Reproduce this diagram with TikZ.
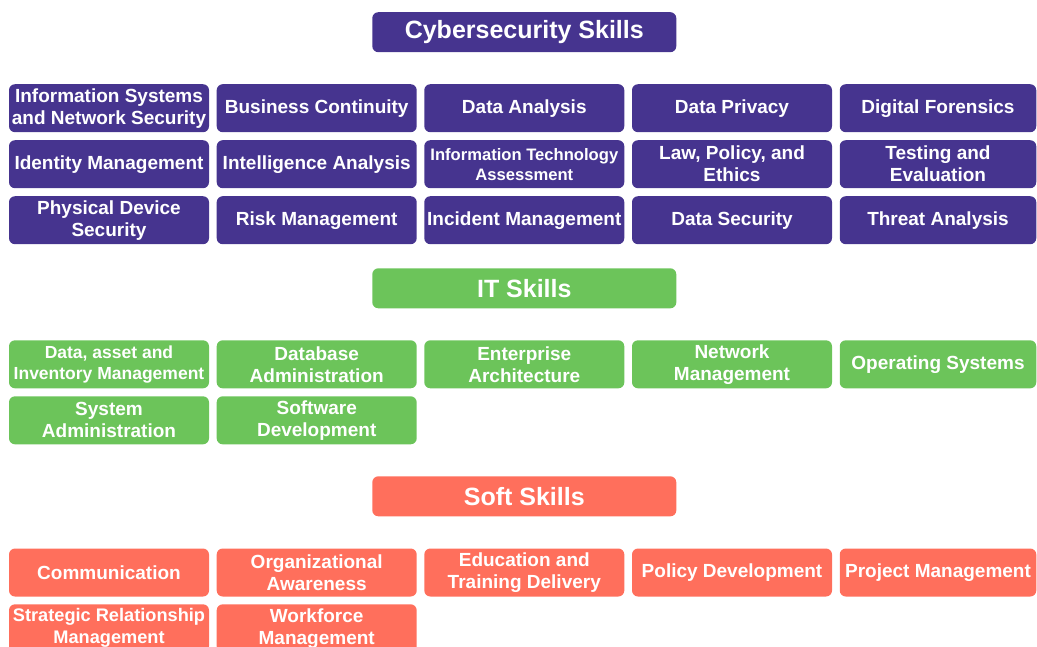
\documentclass[tikz,border=0pt]{standalone}
\usepackage{fontspec}
\setmainfont{Liberation Sans}
\definecolor{cyb}{HTML}{46348F}
\definecolor{itg}{HTML}{6CC45A}
\definecolor{sft}{HTML}{FF6F5C}
\begin{document}
\begin{tikzpicture}[x=1pt,y=-1pt,
  box/.style={rectangle, rounded corners=6pt, minimum width=200pt, minimum height=48pt, inner sep=0pt,
    text=white, align=center, font=\fontsize{19}{22}\selectfont\bfseries},
  hdr/.style={rectangle, rounded corners=6pt, minimum width=304pt, minimum height=40pt, inner sep=0pt,
    text=white, align=center, font=\fontsize{25}{28}\selectfont\bfseries},
  cy/.style={box, fill=cyb}, it/.style={box, fill=itg}, so/.style={box, fill=sft},
  small/.style={font=\fontsize{16.6}{20}\selectfont\bfseries},
  smallb/.style={font=\fontsize{17.5}{21}\selectfont\bfseries},
  mid/.style={font=\fontsize{18.2}{22}\selectfont\bfseries},
  last/.style={minimum width=196.5pt}]
\useasboundingbox (0,0) rectangle (1037,646);
% headers
\node[hdr, fill=cyb] (hc) at (524.3,32.2) {Cybersecurity Skills};
\node[hdr, fill=itg] (hi) at (524.3,288.3) {IT Skills};
\node[hdr, fill=sft] (hs) at (524.3,496.3) {Soft Skills};
% cyber row 1
\node[cy] (c11) at (109,108.2) {Information Systems\\and Network Security};
\node[cy] (c12) at (316.7,108.2) {Business Continuity};
\node[cy] (c13) at (524.3,108.2) {Data Analysis};
\node[cy] (c14) at (732,108.2) {Data Privacy};
\node[cy,last] (c15) at (938,108.2) {Digital Forensics};
% cyber row 2
\node[cy] (c21) at (109,164.2) {Identity Management};
\node[cy] (c22) at (316.7,164.2) {Intelligence Analysis};
\node[cy,small] (c23) at (524.3,164.2) {Information Technology\\Assessment};
\node[cy] (c24) at (732,164.2) {Law, Policy, and\\Ethics};
\node[cy,last] (c25) at (938,164.2) {Testing and\\Evaluation};
% cyber row 3
\node[cy] (c31) at (109,220.2) {Physical Device\\Security};
\node[cy] (c32) at (316.7,220.2) {Risk Management};
\node[cy] (c33) at (524.3,220.2) {Incident Management};
\node[cy] (c34) at (732,220.2) {Data Security};
\node[cy,last] (c35) at (938,220.2) {Threat Analysis};
% IT
\node[it,smallb] (i11) at (109,364.3) {Data, asset and\\Inventory Management};
\node[it] (i12) at (316.7,364.3) {Database\\Administration};
\node[it] (i13) at (524.3,364.3) {Enterprise\\Architecture};
\node[it] (i14) at (732,364.3) {Network\\Management};
\node[it,last] (i15) at (938,364.3) {Operating Systems};
\node[it] (i21) at (109,420.3) {System\\Administration};
\node[it] (i22) at (316.7,420.3) {Software\\Development};
% Soft
\node[so] (s11) at (109,572.5) {Communication};
\node[so] (s12) at (316.7,572.5) {Organizational\\Awareness};
\node[so] (s13) at (524.3,572.5) {Education and\\Training Delivery};
\node[so] (s14) at (732,572.5) {Policy Development};
\node[so,last] (s15) at (938,572.5) {Project Management};
\node[so,mid] (s21) at (109,628.3) {Strategic Relationship\\Management};
\node[so] (s22) at (316.7,628.3) {Workforce\\Management};
\end{tikzpicture}
\end{document}
